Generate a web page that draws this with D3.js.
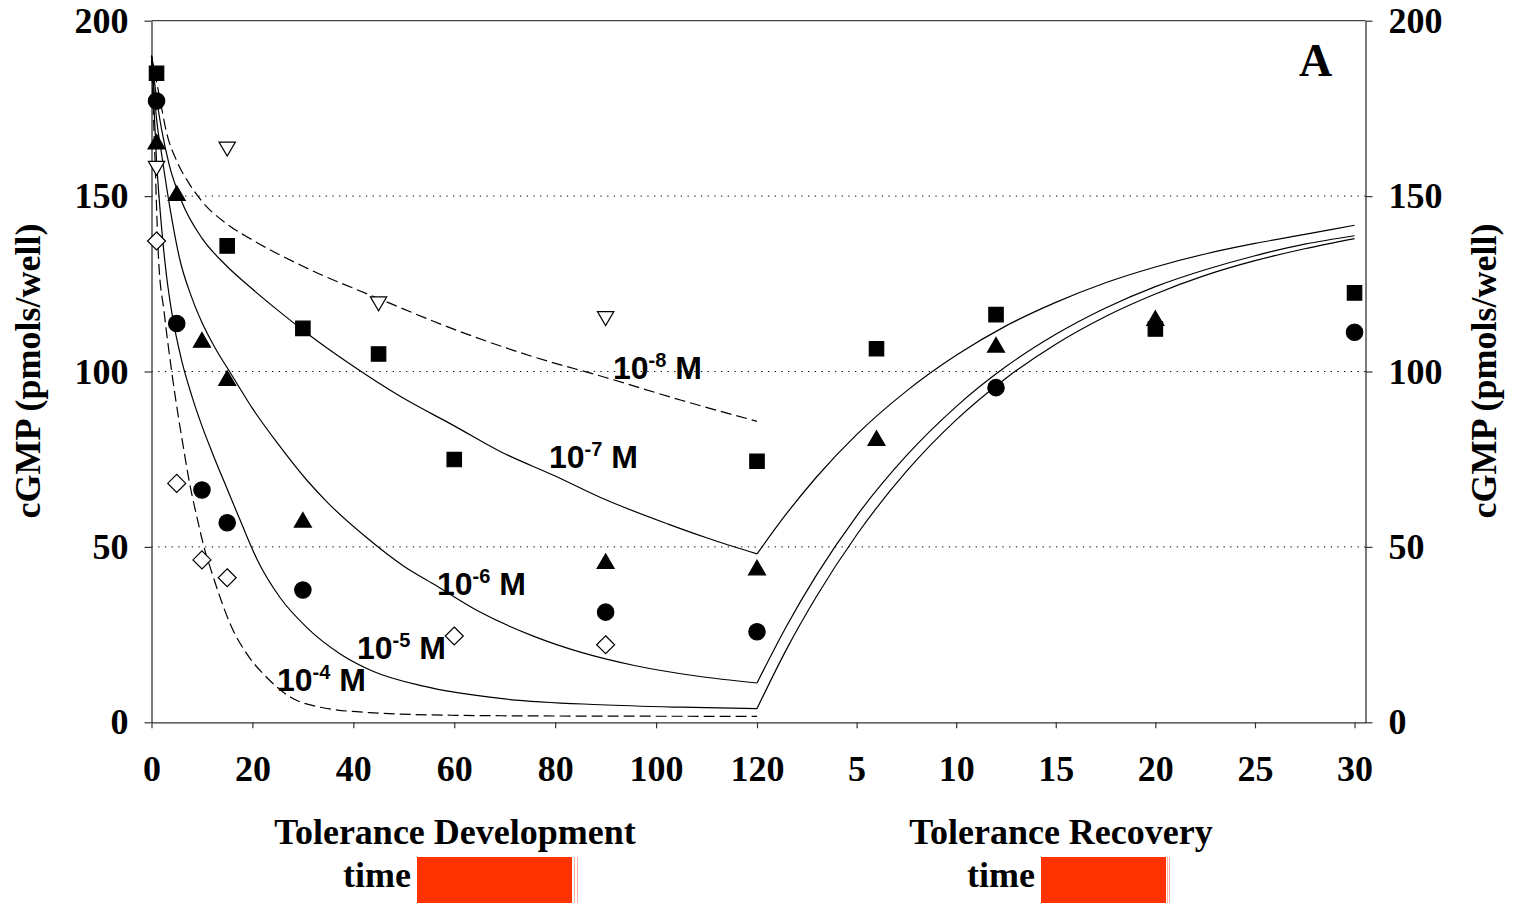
<!DOCTYPE html>
<html><head><meta charset="utf-8">
<script src="https://cdn.jsdelivr.net/npm/d3@7"></script>
<style>body{margin:0;background:#fff}</style>
</head><body><svg id="chart" width="1513" height="903"></svg>
<script>
// ---------- data ----------
const devTicks = [0, 20, 40, 60, 80, 100, 120];
const recTicks = [5, 10, 15, 20, 25, 30];
const yTicks = [0, 50, 100, 150, 200];
const gridValues = [50, 100, 150];

// measured points: [time, cGMP]
const squaresDev = [[1,185],[15,135.8],[30,112.3],[45,105],[60,74.9],[120,74.4]];
const squaresRec = [[6,106.5],[12,116.2],[20,112.1],[30,122.4]];
const trianglesDev = [[1,165.5],[5,150.8],[10,109],[15,98.1],[30,57.7],[90,45.9],[120,44.1]];
const trianglesRec = [[6,81],[12,107.6],[20,115.2]];
const circlesDev = [[1,177.1],[5,113.7],[10,66.2],[15,56.9],[30,37.7],[90,31.4],[120,25.8]];
const circlesRec = [[12,95.4],[30,111.2]];
const invTrianglesDev = [[1,157.9],[15,163.4],[45,119.3],[90,115.1]];
const diamondsDev = [[1,137.2],[5,68.1],[10,46.3],[15,41.2],[60,24.6],[90,22.1]];

// fitted curves, development phase
const fit8 = [[0,190],[1.5,179],[3,168],[5,160],[7.5,153.5],[10,148.5],[15,142],[20,137.5],[30,130],[45,120.8],[60,112],[75,104.5],[90,98.3],[105,91.8],[120,85.8]];
const fit7 = [[0,190],[1,178],[2,169],[3.5,159],[6,148.4],[10,138],[14.6,130.5],[20,123.5],[25,117.5],[31,110.7],[40,101.5],[49.2,93],[60,84.5],[69.1,77.2],[80,70.2],[89.1,64],[102.4,56.5],[110,52.6],[120,48]];
const fit6 = [[0,190],[1,172],[2,162],[3.5,148],[5.6,132],[8,121],[10,114],[12.5,107],[15.9,99],[20,89.5],[25,79.5],[30.8,69],[35,62.5],[42.5,52.8],[50,44.5],[55.8,39.5],[65,31.5],[75.8,24.5],[85,20],[95.7,16.2],[108,13.2],[120,11.2]];
const fit5 = [[0,190],[1,160],[2,141],[3,127],[4,117],[6,103],[8,93],[10,84.5],[12,77],[15,66.5],[17.6,57.5],[20.9,46.5],[25.5,35.5],[30.8,27],[37.4,19.5],[44,14.5],[53.9,10.3],[69.1,6.8],[89,5],[105,4.3],[120,3.9]];
const fit4 = [[0,190],[0.7,160],[1.4,132],[2.5,117],[4,100],[5.5,85.5],[6.1,80.3],[7.5,68.5],[9,58.5],[10.4,50],[12,42.5],[13.5,36],[15.6,28],[19,19.3],[22.9,12.7],[27.5,7.2],[33.5,4.3],[44,2.7],[60,2],[80,1.8],[120,1.7]];
// fitted curves, recovery phase
const rec7 = [[0,48],[1.5,59.6],[3,70],[5,82],[7.5,94.4],[10,104.6],[12.5,113],[15,119.7],[17.5,125.3],[20,129.8],[22.5,133.5],[25,136.5],[27.5,139.1],[30,141.7]];
const rec6 = [[0,11.2],[1.5,27.6],[3,42.1],[5,58.8],[7.5,76],[10,90],[12.5,101.4],[15,110.6],[17.5,118.1],[20,124.2],[22.5,129],[25,133],[27.5,136.3],[30,138.7]];
const rec5 = [[0,3.9],[1.5,21],[3,36],[5,53.4],[7.5,71.5],[10,86.2],[12.5,98.1],[15,107.8],[17.5,115.7],[20,122.1],[22.5,127.4],[25,131.6],[27.5,135],[30,137.9]];

const curveLabels = [
  {base: "10", exp: "-8", unit: " M"},
  {base: "10", exp: "-7", unit: " M"},
  {base: "10", exp: "-6", unit: " M"},
  {base: "10", exp: "-5", unit: " M"},
  {base: "10", exp: "-4", unit: " M"}
];
const yTitle = "cGMP (pmols/well)";
const devTitle = "Tolerance Development";
const recTitle = "Tolerance Recovery";
const timeWord = "time";
const panelLetter = "A";

// ---------- layout ----------
const svg = d3.select("#chart");
const pLeft = 151.5, pRight = 1365.5, pTop = 20.7, pBottom = 722.3;
const serif = "'Liberation Serif','Times New Roman',serif";
const sans = "'Liberation Sans',Arial,sans-serif";
const serifSize = 36;

// composite x: development minutes 0..120, recovery minutes mapped to 120 + 4*t
const x = d3.scaleLinear().domain([0, 120, 242.2]).range([pLeft, 757, pRight]);
const xd = t => x(t);
const xr = t => x(120 + 4 * t);
const y = d3.scaleLinear().domain([0, 200]).range([pBottom, pTop]);

// gridlines
svg.append("g").selectAll("line").data(gridValues).join("line")
  .attr("x1", pLeft).attr("x2", pRight)
  .attr("y1", d => y(d)).attr("y2", d => y(d))
  .attr("stroke", "#000").attr("stroke-width", 1).attr("stroke-dasharray", "1.3,5.4");

// top frame line
svg.append("line").attr("x1", pLeft).attr("x2", pRight).attr("y1", y(200)).attr("y2", y(200))
  .attr("stroke", "#444").attr("stroke-width", 1.3);

// axes
const xTickVals = devTicks.concat(recTicks.map(t => 120 + 4 * t));
const xAxis = d3.axisBottom(x).tickValues(xTickVals)
  .tickFormat(v => v <= 120 ? String(v) : String((v - 120) / 4))
  .tickSize(6).tickPadding(27).tickSizeOuter(0);
const gx = svg.append("g").attr("transform", `translate(0,${pBottom})`).call(xAxis);

const gyl = svg.append("g").attr("transform", `translate(${pLeft},0)`)
  .call(d3.axisLeft(y).tickValues(yTicks).tickSize(7).tickPadding(16).tickSizeOuter(0));
const gyr = svg.append("g").attr("transform", `translate(${pRight},0)`)
  .call(d3.axisRight(y).tickValues(yTicks).tickSize(7).tickPadding(16).tickSizeOuter(0));

[gx, gyl, gyr].forEach(g => {
  g.select(".domain").attr("stroke", "#333").attr("stroke-width", 1.3);
  g.selectAll(".tick line").attr("stroke", "#333").attr("stroke-width", 1.2);
  g.selectAll(".tick text").attr("font-family", serif).attr("font-weight", "bold")
    .attr("font-size", serifSize).attr("fill", "#000");
});

// curves
const line = d3.line().curve(d3.curveMonotoneX);
function drawCurve(data, fx, dashed) {
  svg.append("path")
    .attr("d", line(data.map(d => [fx(d[0]), y(d[1])])))
    .attr("fill", "none").attr("stroke", "#000").attr("stroke-width", 1.2)
    .attr("stroke-dasharray", dashed ? "11,5" : null);
}
drawCurve(fit8, xd, true);
drawCurve(fit7, xd, false);
drawCurve(fit6, xd, false);
drawCurve(fit5, xd, false);
drawCurve(fit4, xd, true);
drawCurve(rec7, xr, false);
drawCurve(rec6, xr, false);
drawCurve(rec5, xr, false);

// markers
const shapes = {
  square: "M-7.2,-7.2H7.2V7.2H-7.2Z",
  triangle: "M0,-7.4L8.5,7.2L-8.5,7.2Z",
  invTriangle: "M-8.2,-7L8.2,-7L0,7Z",
  diamond: "M0,-9L9,0L0,9L-9,0Z"
};
function drawMarkers(data, fx, kind, filled) {
  const g = svg.append("g");
  data.forEach(d => {
    const cx = fx(d[0]), cy = y(d[1]);
    if (kind === "circle") {
      g.append("circle").attr("cx", cx).attr("cy", cy).attr("r", 8.2)
        .attr("fill", filled ? "#000" : "#fff").attr("stroke", "#000").attr("stroke-width", 1.2);
    } else {
      g.append("path").attr("d", shapes[kind]).attr("transform", `translate(${cx},${cy})`)
        .attr("fill", filled ? "#000" : "#fff").attr("stroke", "#000").attr("stroke-width", 1.2);
    }
  });
}
drawMarkers(diamondsDev, xd, "diamond", false);
drawMarkers(invTrianglesDev, xd, "invTriangle", false);
drawMarkers(circlesDev, xd, "circle", true);
drawMarkers(circlesRec, xr, "circle", true);
drawMarkers(squaresDev, xd, "square", true);
drawMarkers(squaresRec, xr, "square", true);
drawMarkers(trianglesDev, xd, "triangle", true);
drawMarkers(trianglesRec, xr, "triangle", true);

// curve labels
const labelPos = [[613, 379], [549, 468], [437, 595], [357, 659], [277, 691]];
curveLabels.forEach((l, i) => {
  const t = svg.append("text").attr("x", labelPos[i][0]).attr("y", labelPos[i][1])
    .attr("font-family", sans).attr("font-weight", 700).attr("font-size", 32).attr("fill", "#000");
  t.append("tspan").text(l.base);
  t.append("tspan").attr("font-size", 20).attr("dy", -12).text(l.exp);
  t.append("tspan").attr("dy", 12).text(l.unit);
});

// panel letter
svg.append("text").attr("x", 1299).attr("y", 76).text(panelLetter)
  .attr("font-family", serif).attr("font-weight", "bold").attr("font-size", 46);

// axis titles
[[40, 371], [1496, 371]].forEach(p => {
  svg.append("text").attr("transform", `translate(${p[0]},${p[1]}) rotate(-90)`)
    .attr("text-anchor", "middle").text(yTitle)
    .attr("font-family", serif).attr("font-weight", "bold").attr("font-size", serifSize);
});

// bottom titles
svg.append("text").attr("x", 455).attr("y", 844).attr("text-anchor", "middle").text(devTitle)
  .attr("font-family", serif).attr("font-weight", "bold").attr("font-size", serifSize);
svg.append("text").attr("x", 1061).attr("y", 844).attr("text-anchor", "middle").text(recTitle)
  .attr("font-family", serif).attr("font-weight", "bold").attr("font-size", serifSize);
svg.append("text").attr("x", 411).attr("y", 887).attr("text-anchor", "end").text(timeWord)
  .attr("font-family", serif).attr("font-weight", "bold").attr("font-size", serifSize);
svg.append("text").attr("x", 1035).attr("y", 887).attr("text-anchor", "end").text(timeWord)
  .attr("font-family", serif).attr("font-weight", "bold").attr("font-size", serifSize);

// red time bars
[[417, 155, [574.5, 577.5]], [1041, 125, [1167.5, 1169.5]]].forEach(b => {
  svg.append("rect").attr("x", b[0]).attr("y", 857).attr("width", b[1]).attr("height", 50).attr("fill", "#ff3300");
  b[2].forEach(lx => svg.append("line").attr("x1", lx).attr("x2", lx).attr("y1", 857).attr("y2", 903)
    .attr("stroke", "#ffb3a0").attr("stroke-width", 1));
});
</script>
</body></html>
